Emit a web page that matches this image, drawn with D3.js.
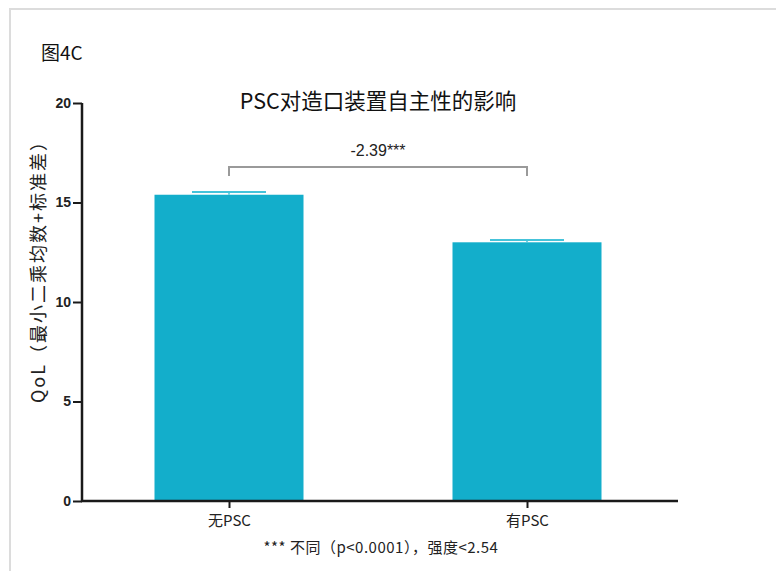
<!DOCTYPE html>
<html>
<head>
<meta charset="utf-8">
<script src="https://cdn.jsdelivr.net/npm/d3@7"></script>
<style>
  html, body { margin: 0; padding: 0; background: #fff; }
  svg { display: block; }
</style>
</head>
<body>
<svg id="chart" width="776" height="571"></svg>
<script>
// Data
const categories = ["无PSC", "有PSC"];
const means = [15.39, 13.00];
const sdUpper = [15.53, 13.12];
const yTicks = [0, 5, 10, 15, 20];
const diffLabel = "-2.39***";
const figLabel = "图4C";
const title = "PSC对造口装置自主性的影响";
const yLabel = "QoL（最小二乘均数+标准差）";
const footnote = "*** 不同（p<0.0001），强度<2.54";

const cjk = "'Noto Sans CJK SC', 'Noto Sans', sans-serif";
const latin = "'Liberation Sans', Arial, 'Noto Sans CJK SC', sans-serif";

const svg = d3.select("#chart");

// Panel frame (top and left edges)
svg.append("path")
  .attr("d", "M10,571 V9 H776")
  .attr("fill", "none")
  .attr("stroke", "#dcdcdc")
  .attr("stroke-width", 2);

const plot = { left: 82, right: 678, top: 103, bottom: 501 };

const y = d3.scaleLinear().domain([0, 20]).range([plot.bottom, plot.top]);
const xp = d3.scalePoint().domain(categories).range([229, 527]);
const barW = 149;

// Bars
svg.selectAll("rect.bar").data(categories).enter().append("rect")
  .attr("class", "bar")
  .attr("x", d => xp(d) - barW / 2)
  .attr("width", barW)
  .attr("y", (d, i) => y(means[i]))
  .attr("height", (d, i) => y(0) - y(means[i]))
  .attr("fill", "#13aecb");

// Error bars (upper only)
const capW = 74;
categories.forEach((c, i) => {
  const cx = xp(c);
  svg.append("line")
    .attr("x1", cx).attr("x2", cx)
    .attr("y1", y(means[i])).attr("y2", y(sdUpper[i]))
    .attr("stroke", "#45c3da").attr("stroke-width", 1.5);
  svg.append("line")
    .attr("x1", cx - capW / 2).attr("x2", cx + capW / 2)
    .attr("y1", y(sdUpper[i])).attr("y2", y(sdUpper[i]))
    .attr("stroke", "#45c3da").attr("stroke-width", 2);
});

// Y axis
const yAxis = d3.axisLeft(y).tickValues(yTicks).tickSize(9).tickPadding(2);
const gy = svg.append("g")
  .attr("transform", `translate(${plot.left},0)`)
  .call(yAxis);
gy.select(".domain").attr("stroke", "#1a1a1a").attr("stroke-width", 2.5)
  .attr("d", `M0,${plot.top}V${plot.bottom}`);
gy.selectAll(".tick line").attr("stroke", "#1a1a1a").attr("stroke-width", 2);
gy.selectAll(".tick text")
  .attr("font-family", latin).attr("font-size", 14).attr("font-weight", "bold")
  .attr("fill", "#222");

// X axis
const xAxis = d3.axisBottom(xp).tickSize(7).tickPadding(4).tickSizeOuter(0);
const gx = svg.append("g")
  .attr("transform", `translate(0,${plot.bottom})`)
  .call(xAxis);
gx.select(".domain").attr("stroke", "#1a1a1a").attr("stroke-width", 2.5)
  .attr("d", `M${plot.left - 1},0H${plot.right}`);
gx.selectAll(".tick line").attr("stroke", "#1a1a1a").attr("stroke-width", 2);
gx.selectAll(".tick text")
  .attr("font-family", cjk).attr("font-size", 15).attr("fill", "#222")
  .attr("dy", "0.9em");

// Significance bracket
const bY = 167, bDrop = 9;
const x1 = xp(categories[0]), x2 = xp(categories[1]);
svg.append("path")
  .attr("d", `M${x1},${bY + bDrop}V${bY}H${x2}V${bY + bDrop}`)
  .attr("fill", "none").attr("stroke", "#9a9a9a").attr("stroke-width", 2);
svg.append("text")
  .attr("x", (x1 + x2) / 2).attr("y", 156)
  .attr("text-anchor", "middle")
  .attr("font-family", latin).attr("font-size", 16).attr("fill", "#222")
  .text(diffLabel);

// Figure label and title
svg.append("text")
  .attr("x", 41).attr("y", 60)
  .attr("font-family", cjk).attr("font-size", 19).attr("fill", "#111")
  .text(figLabel);
svg.append("text")
  .attr("x", 378).attr("y", 109)
  .attr("text-anchor", "middle")
  .attr("font-family", cjk).attr("font-size", 21.5).attr("fill", "#111")
  .text(title);

// Y axis title
svg.append("text")
  .attr("transform", "translate(45,267) rotate(-90)")
  .attr("text-anchor", "middle")
  .attr("font-family", cjk).attr("font-size", 18).attr("letter-spacing", 2)
  .attr("fill", "#222")
  .text(yLabel);

// Footnote
svg.append("text")
  .attr("x", 381).attr("y", 553)
  .attr("text-anchor", "middle")
  .attr("font-family", cjk).attr("font-size", 15).attr("letter-spacing", 0.5)
  .attr("fill", "#222")
  .text(footnote);
</script>
</body>
</html>
